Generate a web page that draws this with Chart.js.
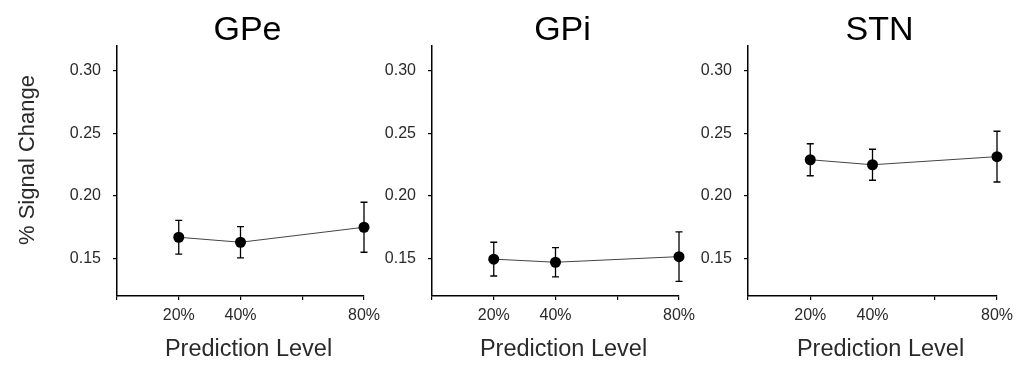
<!DOCTYPE html>
<html><head><meta charset="utf-8">
<script src="https://cdn.jsdelivr.net/npm/chart.js@4.4.0/dist/chart.umd.min.js"></script>
<style>
html,body{margin:0;padding:0;background:#fff;width:1023px;height:365px;overflow:hidden;}
canvas{position:absolute;top:0;}
</style></head><body>
<canvas id="c0" width="390" height="365" style="left:0px"></canvas>
<canvas id="c1" width="325" height="365" style="left:380px"></canvas>
<canvas id="c2" width="328" height="365" style="left:695px"></canvas>
<script>
// ---- data ----
const levels = [20, 40, 80];
const xTickValues = [0, 20, 40, 60, 80];
const xTickLabels = ['', '20%', '40%', '', '80%'];
const yTickValues = [0.15, 0.20, 0.25, 0.30];
const regions = ['GPe', 'GPi', 'STN'];
const gpeMean = [0.167, 0.163, 0.175];
const gpeErr  = [0.0135, 0.0125, 0.020];
const gpiMean = [0.1495, 0.147, 0.1515];
const gpiErr  = [0.0135, 0.0117, 0.0198];
const stnMean = [0.229, 0.225, 0.2315];
const stnErr  = [0.0128, 0.0124, 0.0203];
const yAxisTitle = '% Signal Change';
const xAxisTitle = 'Prediction Level';

const FONT = "'Liberation Sans', Arial, Helvetica, sans-serif";
const TXT = '#2a2a2a';

const errorBars = {
  id: 'errorBars',
  beforeDatasetsDraw(chart, args, opts) {
    const {ctx, scales: {x, y}} = chart;
    const ds = chart.data.datasets[0];
    ctx.save();
    ctx.strokeStyle = '#000';
    ctx.lineWidth = 1.3;
    ds.data.forEach((p, i) => {
      const e = opts.err[i];
      const px = x.getPixelForValue(p.x);
      const top = y.getPixelForValue(p.y + e);
      const bot = y.getPixelForValue(p.y - e);
      ctx.beginPath();
      ctx.moveTo(px, top); ctx.lineTo(px, bot);
      ctx.moveTo(px - 3.5, top); ctx.lineTo(px + 3.5, top);
      ctx.moveTo(px - 3.5, bot); ctx.lineTo(px + 3.5, bot);
      ctx.stroke();
    });
    ctx.restore();
  }
};

const panelText = {
  id: 'panelText',
  afterDraw(chart, args, opts) {
    const {ctx, chartArea: a} = chart;
    const cx = (a.left + a.right) / 2;
    ctx.save();
    ctx.fillStyle = '#000';
    ctx.textAlign = 'center';
    ctx.textBaseline = 'alphabetic';
    ctx.font = '34px ' + FONT;
    ctx.fillText(opts.title, cx + 7, 40);
    ctx.fillStyle = TXT;
    ctx.font = '23.5px ' + FONT;
    ctx.fillText(xAxisTitle, cx + 8, 356);
    if (opts.yTitle) {
      ctx.save();
      ctx.translate(34, 160);
      ctx.rotate(-Math.PI / 2);
      ctx.font = '22px ' + FONT;
      ctx.fillText(yAxisTitle, 0, 0);
      ctx.restore();
    }
    ctx.restore();
  }
};

function makePanel(id, title, means, errs, yWidth, padRight, yTitle) {
  new Chart(document.getElementById(id), {
    type: 'line',
    data: {
      datasets: [{
        data: levels.map((lv, i) => ({x: lv, y: means[i]})),
        borderColor: '#444',
        borderWidth: 1,
        pointRadius: 5.5,
        pointBackgroundColor: '#000',
        pointBorderColor: '#000',
        pointBorderWidth: 0,
        tension: 0,
        clip: false
      }]
    },
    options: {
      responsive: false,
      animation: false,
      events: [],
      layout: {padding: {top: 46, right: padRight, left: 0, bottom: 0}},
      plugins: {
        legend: {display: false},
        tooltip: {enabled: false},
        title: {display: false},
        errorBars: {err: errs},
        panelText: {title: title, yTitle: yTitle}
      },
      scales: {
        x: {
          type: 'linear', min: 0, max: 80,
          afterFit(s) { s.height = 69; },
          afterBuildTicks(s) { s.ticks = xTickValues.map(v => ({value: v})); },
          grid: {drawOnChartArea: false, drawTicks: true, tickLength: 4, color: '#000', lineWidth: 1.2},
          border: {display: true, color: '#000', width: 1.5},
          ticks: {
            color: TXT, padding: 6, maxRotation: 0, autoSkip: false,
            font: {family: FONT, size: 16},
            callback: (v) => xTickLabels[xTickValues.indexOf(v)] ?? ''
          }
        },
        y: {
          type: 'linear', min: 0.12, max: 0.32,
          afterFit(s) { s.width = yWidth; },
          afterBuildTicks(s) { s.ticks = yTickValues.map(v => ({value: v})); },
          grid: {drawOnChartArea: false, drawTicks: true, tickLength: 4, color: '#000', lineWidth: 1.2},
          border: {display: true, color: '#000', width: 1.5},
          ticks: {
            color: TXT, padding: 12,
            font: {family: FONT, size: 16},
            callback: (v) => Number(v).toFixed(2)
          }
        }
      }
    },
    plugins: [errorBars, panelText]
  });
}

makePanel('c0', regions[0], gpeMean, gpeErr, 117, 26, true);
makePanel('c1', regions[1], gpiMean, gpiErr, 52, 26, false);
makePanel('c2', regions[2], stnMean, stnErr, 53, 26, false);
</script>
</body></html>
